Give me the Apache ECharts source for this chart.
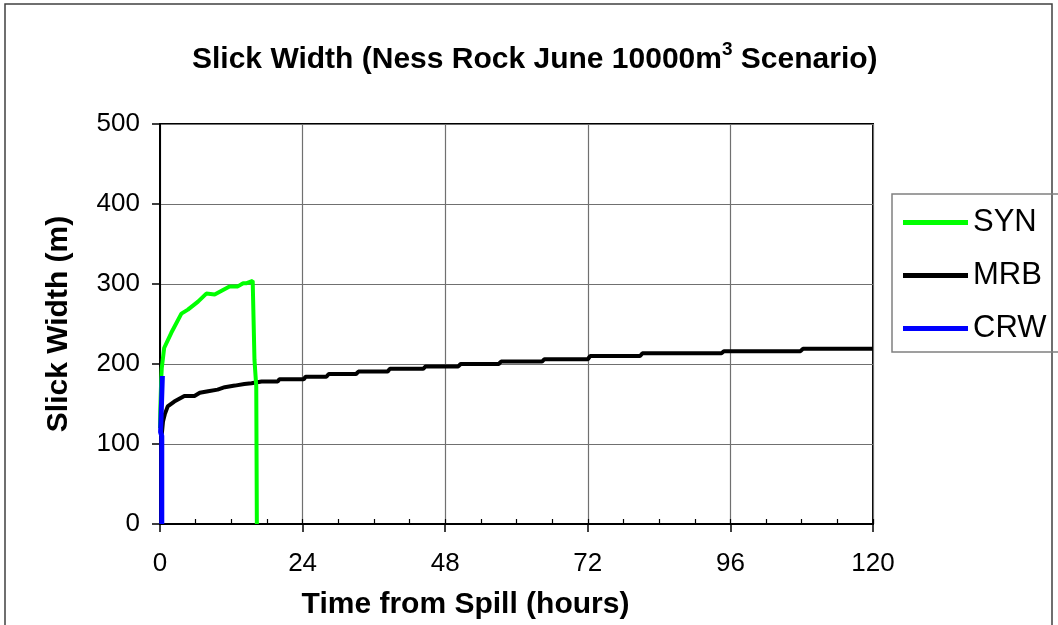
<!DOCTYPE html>
<html>
<head>
<meta charset="utf-8">
<script src="https://cdn.jsdelivr.net/npm/echarts@6/dist/echarts.min.js"></script>
<style>
  html, body { margin: 0; padding: 0; background: #fff; }
  #chart { width: 1058px; height: 625px; }
</style>
</head>
<body>
<div id="chart"></div>
<script>
// hours from spill / slick width (m)
const synHours = [0, 0.05, 0.2, 0.3, 0.7, 1.9, 3.6, 4.7, 6.4, 7.8, 9.2, 11.7, 13.1, 14.0, 14.6, 15.6, 15.9, 15.9, 16.2, 16.3];
const synWidth = [120, 143, 180, 195, 220, 239, 263, 268, 278, 288, 287, 297, 297, 301, 301, 304, 304, 205, 172, 0];

const mrbHours = [0.3, 0.5, 0.8, 1.3, 2.4, 4.1, 5.8, 6.7, 8.1, 9.7, 10.9, 12.6, 14.2, 15.4, 17.1, 19.8,
  20.1, 24.2, 24.5, 28, 28.4, 33, 33.4, 38.3, 38.7, 44.3, 44.7, 50.2, 50.6, 57, 57.4, 64.3,
  64.7, 72, 72.4, 80.8, 81.2, 94.5, 94.9, 107.8, 108.2, 120];
const mrbWidth = [112, 128, 137, 147, 153, 160, 160, 164, 166, 168, 171, 173, 175, 176, 178, 178,
  181, 181, 184, 184, 187.5, 187.5, 190.5, 190.5, 194, 194, 197, 197, 200, 200, 203, 203,
  206, 206, 210, 210, 213.5, 213.5, 216, 216, 219, 219];

const crwHours = [0.3, 0.3, 0.1, 0.25, 0.4];
const crwWidth = [0, 110, 115, 150, 185];

const xTicks = [0, 24, 48, 72, 96, 120];
const yTicks = [0, 100, 200, 300, 400, 500];

function pairs(xs, ys) {
  return xs.map((x, i) => [x, ys[i]]);
}

const font = 'Liberation Sans, Arial, sans-serif';
const chart = echarts.init(document.getElementById('chart'));

const option = {
  animation: false,
  backgroundColor: '#fff',
  title: {
    text: 'Slick Width (Ness Rock June 10000m{sup|3} Scenario)',
    left: 192,
    top: 40,
    padding: 0,
    textStyle: {
      fontFamily: font,
      fontSize: 30,
      fontWeight: 'bold',
      color: '#000',
      rich: {
        sup: { fontFamily: font, fontSize: 19, fontWeight: 'bold', color: '#000', padding: [0, 0, 20, 0] }
      }
    }
  },
  legend: {
    orient: 'vertical',
    left: 903,
    top: 207,
    padding: 0,
    itemGap: 22,
    itemWidth: 65,
    itemHeight: 5,
    icon: 'rect',
    data: ['SYN', 'MRB', 'CRW'],
    textStyle: { fontFamily: font, fontSize: 31, color: '#000' }
  },
  grid: {
    left: 160,
    top: 124,
    width: 713,
    height: 401,
    show: true,
    borderColor: '#000',
    borderWidth: 2
  },
  xAxis: [
    {
      type: 'value',
      min: xTicks[0],
      max: xTicks[xTicks.length - 1],
      interval: 24,
      name: 'Time from Spill (hours)',
      nameLocation: 'middle',
      nameGap: 66,
      nameTextStyle: { fontFamily: font, fontSize: 30, fontWeight: 'bold', color: '#000', padding: [0, 102, 0, 0] },
      axisLine: { lineStyle: { color: '#000', width: 2 } },
      axisTick: { length: 8, lineStyle: { color: '#000', width: 1.5 } },
      axisLabel: { fontFamily: font, fontSize: 26, color: '#000', margin: 27 },
      splitLine: { lineStyle: { color: '#707070', width: 1.2 } }
    },
    {
      // minor ticks every 6 h, pointing inward
      type: 'value',
      position: 'bottom',
      min: 0,
      max: 120,
      interval: 6,
      axisLine: { show: false },
      axisTick: { inside: true, length: 5, lineStyle: { color: '#000', width: 1.2 } },
      axisLabel: { show: false },
      splitLine: { show: false }
    }
  ],
  yAxis: {
    type: 'value',
    min: yTicks[0],
    max: yTicks[yTicks.length - 1],
    interval: 100,
    name: 'Slick Width (m)',
    nameLocation: 'middle',
    nameGap: 86,
    nameTextStyle: { fontFamily: font, fontSize: 30, fontWeight: 'bold', color: '#000' },
    axisLine: { show: true, lineStyle: { color: '#000', width: 2 } },
    axisTick: { show: true, length: 8, lineStyle: { color: '#000', width: 1.5 } },
    axisLabel: { fontFamily: font, fontSize: 26, color: '#000', margin: 20 },
    splitLine: { lineStyle: { color: '#707070', width: 1.2 } }
  },
  graphic: [
    {
      type: 'rect',
      shape: { x: 5, y: 4, width: 1047, height: 640 },
      style: { fill: 'none', stroke: '#404040', lineWidth: 1.5 },
      silent: true
    },
    {
      type: 'rect',
      shape: { x: 892, y: 194, width: 170, height: 158 },
      style: { fill: 'none', stroke: '#808080', lineWidth: 1.5 },
      silent: true
    }
  ],
  series: [
    {
      name: 'SYN',
      type: 'line',
      z: 3,
      showSymbol: false,
      color: '#00ff00',
      lineStyle: { width: 4, color: '#00ff00' },
      data: pairs(synHours, synWidth)
    },
    {
      name: 'MRB',
      type: 'line',
      z: 2,
      showSymbol: false,
      color: '#000000',
      lineStyle: { width: 4, color: '#000000' },
      data: pairs(mrbHours, mrbWidth)
    },
    {
      name: 'CRW',
      type: 'line',
      z: 4,
      clip: false,
      showSymbol: false,
      color: '#0000ff',
      lineStyle: { width: 5, color: '#0000ff' },
      data: pairs(crwHours, crwWidth)
    }
  ]
};

chart.setOption(option);
</script>
</body>
</html>
